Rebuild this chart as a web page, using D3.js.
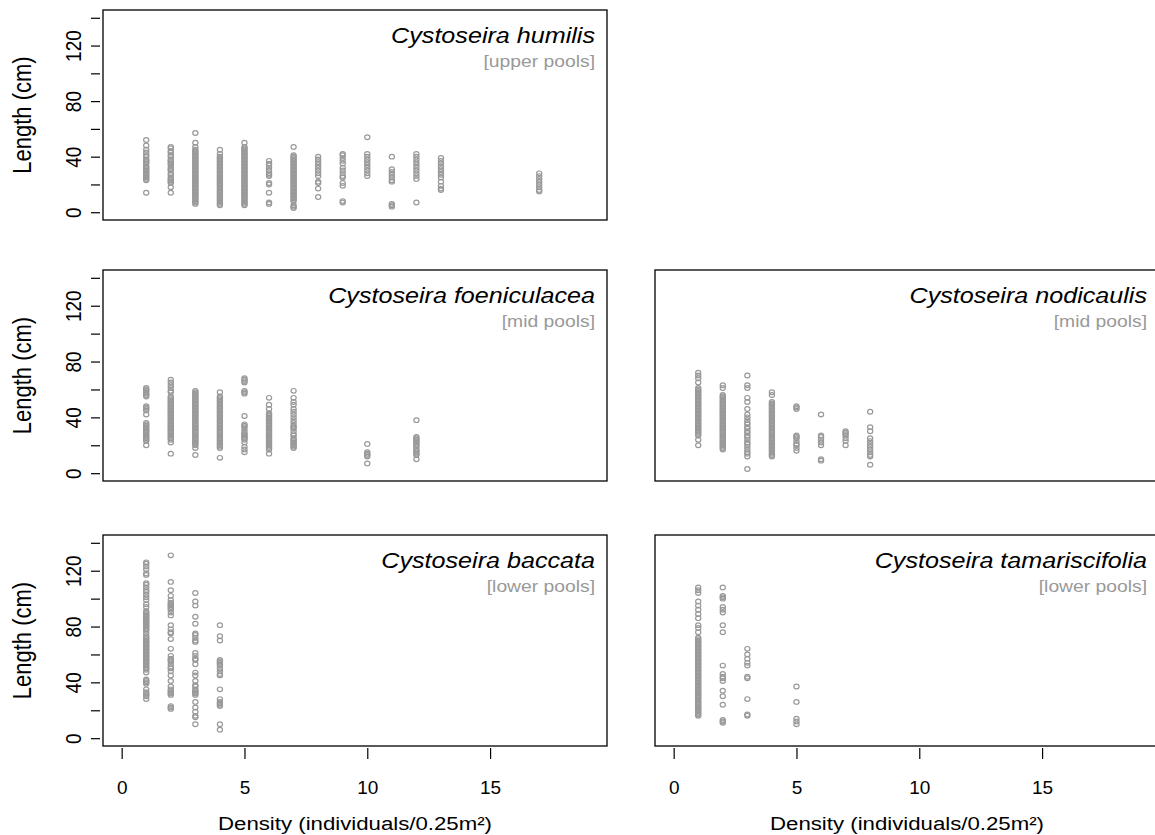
<!DOCTYPE html>
<html>
<head>
<meta charset="utf-8">
<script src="https://cdn.jsdelivr.net/npm/d3@7"></script>
<style>
  html, body { margin: 0; padding: 0; background: #fff; }
  svg { display: block; font-family: "Liberation Sans", Arial, Helvetica, sans-serif; }
</style>
</head>
<body>
<svg id="chart" width="1155" height="835"></svg>
<script>
// Axis ticks and labels
const densityTicks = [0, 5, 10, 15];
const lengthTicks = [0, 20, 40, 60, 80, 100, 120, 140];
const lengthTickLabels = [0, 40, 80, 120];
const densityLimits = [0, 19];
const lengthLimits = [0, 140];

// Cystoseira humilis — upper pools
const humilisDensity = [1, 2, 3, 4, 5, 6, 7, 8, 9, 10, 11, 12, 13, 17];
const humilisLength = [
  [52, 48, 45, 43, 41, 40, 38, 37, 36, 35, 33, 32, 31, 30, 29, 28, 27, 26, 25, 24, 23, 14],
  [47, 46, 44, 43, 41, 40, 38, 37, 36, 35, 34, 32, 31, 30, 28, 27, 25, 24, 23, 22, 21, 18, 14],
  [57, 50, 47, 45, 44, 43, 42, 41, 40, 39, 38, 37, 36, 35, 34, 33, 32, 31, 30, 29, 28, 27, 26, 25, 24, 23, 22, 21, 20, 19, 18, 17, 16, 15, 14, 13, 12, 11, 10, 9, 8, 7, 6],
  [45, 42, 40, 39, 38, 37, 36, 35, 34, 33, 32, 31, 30, 29, 28, 27, 26, 25, 24, 23, 22, 21, 20, 19, 18, 17, 16, 15, 14, 13, 12, 11, 10, 9, 8, 7, 6, 5],
  [50, 47, 46, 45, 44, 43, 42, 41, 40, 39, 38, 37, 36, 35, 34, 33, 32, 31, 30, 29, 28, 27, 26, 25, 24, 23, 22, 21, 20, 19, 18, 17, 16, 15, 14, 13, 12, 11, 10, 9, 8, 7, 6, 5],
  [37, 35, 34, 32, 30, 28, 27, 26, 21, 20, 14, 7, 6],
  [47, 41, 40, 39, 38, 37, 36, 35, 34, 33, 32, 31, 30, 29, 28, 27, 26, 25, 24, 23, 22, 21, 20, 19, 18, 17, 16, 15, 14, 13, 12, 11, 10, 9, 8, 5, 4, 3],
  [40, 38, 36, 34, 32, 30, 28, 26, 22, 21, 17, 11],
  [42, 41, 39, 37, 35, 32, 30, 28, 26, 25, 21, 19, 8, 7],
  [54, 42, 40, 38, 36, 34, 32, 30, 28, 26],
  [40, 31, 29, 27, 25, 23, 22, 6, 5, 4],
  [42, 40, 38, 36, 34, 32, 30, 28, 26, 24, 7],
  [39, 37, 35, 33, 31, 29, 27, 25, 22, 19, 17, 16],
  [28, 26, 24, 22, 20, 18, 16, 15]
];

// Cystoseira foeniculacea — mid pools
const foeniculaceaDensity = [1, 2, 3, 4, 5, 6, 7, 10, 12];
const foeniculaceaLength = [
  [61, 60, 59, 58, 57, 56, 55, 48, 47, 46, 45, 42, 36, 35, 34, 33, 32, 31, 30, 29, 28, 27, 26, 25, 24, 23, 20],
  [67, 65, 63, 61, 59, 58, 55, 54, 53, 52, 51, 50, 49, 48, 47, 46, 45, 44, 43, 42, 41, 40, 39, 38, 37, 36, 35, 34, 33, 32, 31, 30, 29, 28, 27, 26, 25, 24, 22, 14],
  [59, 58, 57, 56, 55, 54, 53, 52, 51, 50, 49, 48, 47, 46, 45, 44, 43, 42, 41, 40, 39, 38, 37, 36, 35, 34, 33, 32, 31, 30, 29, 28, 27, 26, 25, 24, 23, 22, 21, 20, 18, 13],
  [58, 55, 54, 53, 52, 51, 50, 49, 48, 47, 46, 45, 44, 43, 42, 41, 40, 39, 38, 37, 36, 35, 34, 33, 32, 31, 30, 29, 28, 27, 26, 25, 24, 23, 22, 21, 20, 19, 18, 11],
  [68, 67, 66, 65, 59, 58, 57, 41, 35, 34, 33, 31, 29, 28, 27, 26, 25, 24, 22, 19, 17, 15],
  [54, 49, 46, 43, 42, 41, 40, 39, 38, 37, 36, 35, 34, 33, 32, 31, 30, 29, 28, 27, 26, 25, 24, 23, 22, 21, 20, 19, 18, 17, 14],
  [59, 54, 51, 49, 46, 44, 42, 40, 38, 36, 34, 33, 32, 30, 28, 27, 25, 24, 23, 22, 21, 20, 19, 18],
  [21, 15, 14, 13, 12, 7],
  [38, 26, 25, 24, 23, 22, 21, 20, 19, 17, 16, 15, 14, 13, 10]
];

// Cystoseira nodicaulis — mid pools
const nodicaulisDensity = [1, 2, 3, 4, 5, 6, 7, 8];
const nodicaulisLength = [
  [72, 70, 68, 65, 61, 60, 59, 58, 57, 56, 55, 54, 53, 52, 51, 50, 49, 48, 47, 46, 45, 44, 43, 42, 41, 40, 39, 38, 37, 36, 35, 34, 33, 32, 31, 30, 29, 28, 27, 24, 20],
  [63, 61, 56, 55, 54, 53, 52, 51, 50, 49, 48, 47, 46, 45, 44, 43, 42, 41, 40, 39, 38, 37, 36, 35, 34, 33, 32, 31, 30, 29, 28, 27, 26, 25, 24, 23, 22, 21, 20, 19, 18, 17],
  [70, 63, 61, 54, 51, 46, 42, 40, 38, 36, 35, 33, 32, 30, 29, 27, 26, 24, 22, 21, 19, 17, 15, 14, 12, 3],
  [58, 56, 51, 50, 49, 48, 47, 46, 45, 44, 43, 42, 41, 40, 39, 38, 37, 36, 35, 34, 33, 32, 31, 30, 29, 28, 27, 26, 25, 24, 23, 22, 21, 20, 19, 18, 17, 16, 15, 14, 13, 12],
  [48, 47, 46, 27, 26, 25, 23, 21, 20, 18, 16],
  [42, 27, 26, 24, 22, 20, 10, 9],
  [30, 29, 28, 27, 25, 23, 20],
  [44, 33, 30, 25, 23, 21, 19, 17, 15, 13, 12, 6]
];

// Cystoseira baccata — lower pools
const baccataDensity = [1, 2, 3, 4];
const baccataLength = [
  [126, 125, 123, 121, 118, 117, 111, 110, 108, 106, 105, 103, 101, 99, 96, 94, 91, 90, 89, 88, 87, 86, 85, 84, 83, 82, 81, 80, 79, 78, 77, 75, 73, 72, 71, 70, 69, 68, 67, 66, 65, 64, 63, 62, 61, 60, 59, 58, 57, 56, 55, 54, 53, 52, 51, 50, 49, 47, 42, 41, 40, 39, 35, 33, 32, 31, 30, 28],
  [131, 112, 106, 102, 99, 97, 96, 95, 94, 93, 92, 90, 88, 81, 78, 76, 75, 71, 64, 59, 57, 56, 55, 53, 51, 50, 48, 45, 41, 37, 35, 34, 33, 32, 31, 23, 22, 21],
  [104, 98, 95, 87, 82, 75, 74, 72, 70, 69, 61, 59, 57, 56, 53, 47, 45, 41, 38, 37, 35, 34, 33, 32, 31, 26, 22, 19, 16, 15, 10],
  [81, 73, 70, 56, 55, 54, 53, 52, 50, 48, 46, 45, 35, 28, 26, 25, 24, 23, 10, 6]
];

// Cystoseira tamariscifolia — lower pools
const tamariscifoliaDensity = [1, 2, 3, 5];
const tamariscifoliaLength = [
  [108, 106, 104, 98, 95, 92, 89, 86, 81, 79, 76, 72, 71, 70, 69, 68, 67, 66, 65, 64, 63, 62, 61, 60, 59, 58, 57, 56, 55, 54, 53, 52, 51, 50, 49, 48, 47, 46, 45, 44, 43, 42, 41, 40, 39, 38, 37, 36, 35, 34, 33, 32, 31, 30, 29, 28, 27, 26, 25, 24, 23, 22, 21, 20, 19, 18, 17, 16],
  [108, 102, 101, 100, 94, 92, 90, 81, 76, 52, 46, 44, 43, 41, 34, 30, 24, 13, 12, 11],
  [64, 60, 57, 54, 52, 44, 43, 28, 17, 16],
  [37, 26, 14, 12, 10]
];

// Panel grid: three rows, two columns; right column shares the y scale of the left
const columns = [
  { left: 103, right: 607, yAxis: true },
  { left: 655, right: 1159, yAxis: false }
];
const rows = [
  { top: 10, bottom: 220, xAxis: false },
  { top: 270, bottom: 481, xAxis: false },
  { top: 535, bottom: 746, xAxis: true }
];

const panels = [
  { name: "Cystoseira humilis", zone: "[upper pools]", row: 0, col: 0, density: humilisDensity, length: humilisLength },
  { name: "Cystoseira foeniculacea", zone: "[mid pools]", row: 1, col: 0, density: foeniculaceaDensity, length: foeniculaceaLength },
  { name: "Cystoseira nodicaulis", zone: "[mid pools]", row: 1, col: 1, density: nodicaulisDensity, length: nodicaulisLength },
  { name: "Cystoseira baccata", zone: "[lower pools]", row: 2, col: 0, density: baccataDensity, length: baccataLength },
  { name: "Cystoseira tamariscifolia", zone: "[lower pools]", row: 2, col: 1, density: tamariscifoliaDensity, length: tamariscifoliaLength }
];

const svg = d3.select("#chart");
const pointColor = "#999999";
const wide = 1.17; // horizontal widening of the lettering

// R-style 4% extension of the axis limits
function padded(lim) {
  const d = (lim[1] - lim[0]) * 0.04;
  return [lim[0] - d, lim[1] + d];
}

panels.forEach(p => {
  const c = columns[p.col], r = rows[p.row];
  const x = d3.scaleLinear().domain(padded(densityLimits)).range([c.left, c.right]);
  const y = d3.scaleLinear().domain(padded(lengthLimits)).range([r.bottom, r.top]);
  const g = svg.append("g");

  // points: one open circle per plant
  const pts = [];
  p.density.forEach((d, i) => p.length[i].forEach(v => pts.push({ d, v })));
  g.append("g").selectAll("ellipse").data(pts).join("ellipse")
    .attr("cx", d => x(d.d))
    .attr("cy", d => y(d.v))
    .attr("rx", 2.6)
    .attr("ry", 2.35)
    .attr("fill", "none")
    .attr("stroke", pointColor)
    .attr("stroke-width", 1.2);

  // frame
  g.append("rect")
    .attr("x", c.left).attr("y", r.top)
    .attr("width", c.right - c.left).attr("height", r.bottom - r.top)
    .attr("fill", "none").attr("stroke", "#000").attr("stroke-width", 1.3);

  // species name and pool zone
  g.append("text")
    .attr("transform", `translate(${c.right - 12},${r.top + 32.5}) scale(${wide},1)`)
    .attr("text-anchor", "end")
    .attr("font-size", 21.5).attr("font-style", "italic").attr("fill", "#000")
    .text(p.name);
  g.append("text")
    .attr("transform", `translate(${c.right - 12},${r.top + 57}) scale(${wide},1)`)
    .attr("text-anchor", "end")
    .attr("font-size", 16.5).attr("fill", "#999999")
    .text(p.zone);

  if (c.yAxis) {
    const ya = g.append("g").attr("transform", `translate(${c.left - 3},0)`)
      .call(d3.axisLeft(y).tickValues(lengthTicks).tickSize(9).tickPadding(6)
        .tickFormat(v => lengthTickLabels.includes(v) ? v : ""));
    ya.select(".domain").remove();
    ya.selectAll(".tick line").attr("stroke", "#000").attr("stroke-width", 1.2);
    ya.selectAll(".tick text")
      .attr("font-size", 19).attr("fill", "#000")
      .attr("transform", `scale(${wide},1) rotate(-90)`)
      .attr("x", 0).attr("y", -23)
      .attr("dy", "0.35em")
      .attr("text-anchor", "middle")
      .attr("font-family", "Liberation Sans, Arial, sans-serif");
    g.append("text")
      .attr("transform", `translate(22,${(r.top + r.bottom) / 2}) scale(${wide},1) rotate(-90)`)
      .attr("text-anchor", "middle").attr("dy", "0.35em")
      .attr("font-size", 22).attr("fill", "#000")
      .text("Length (cm)");
  }

  if (r.xAxis) {
    const xa = g.append("g").attr("transform", `translate(0,${r.bottom + 2})`)
      .call(d3.axisBottom(x).tickValues(densityTicks).tickSize(11).tickPadding(22));
    xa.select(".domain").remove();
    xa.selectAll(".tick line").attr("stroke", "#000").attr("stroke-width", 1.2);
    xa.selectAll(".tick text").attr("font-size", 19).attr("fill", "#000")
      .attr("font-family", "Liberation Sans, Arial, sans-serif");
    g.append("text")
      .attr("transform", `translate(${(c.left + c.right) / 2},830) scale(${wide},1)`)
      .attr("text-anchor", "middle")
      .attr("font-size", 19).attr("fill", "#000")
      .text("Density (individuals/0.25m²)");
  }
});
</script>
</body>
</html>
